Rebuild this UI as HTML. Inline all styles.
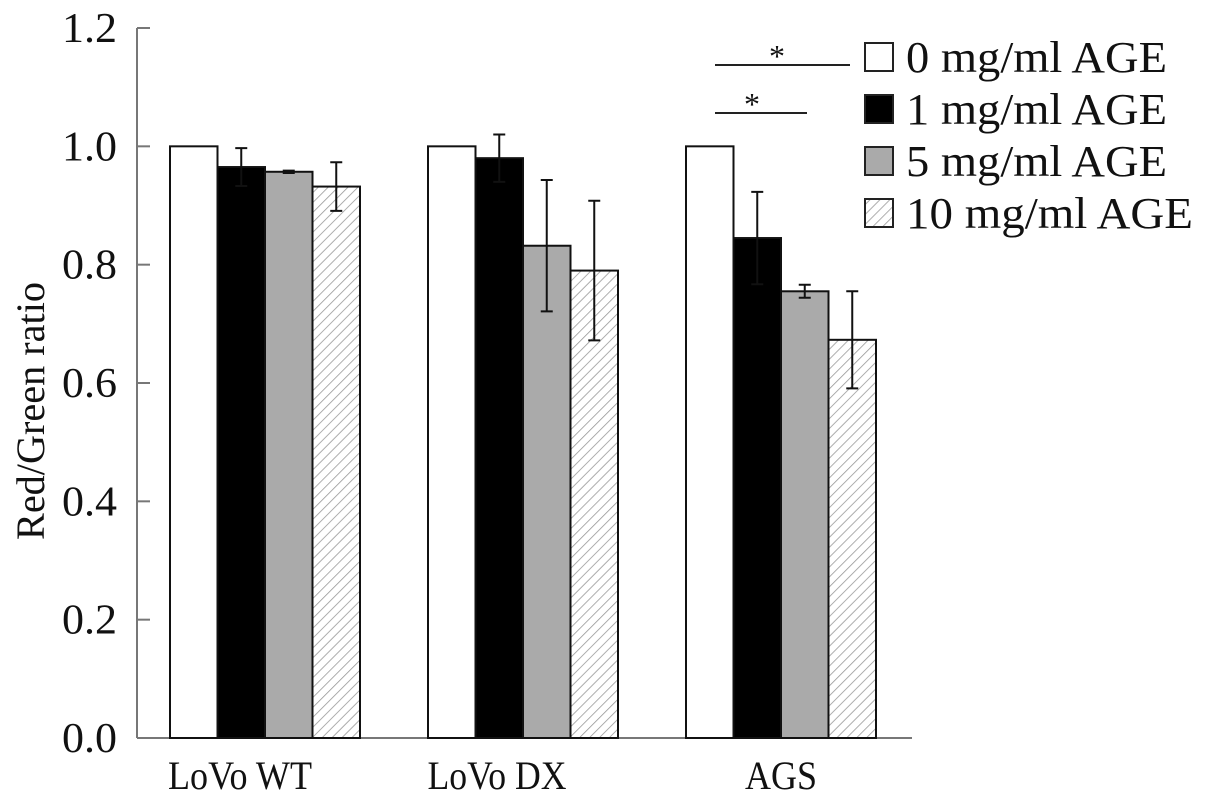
<!DOCTYPE html>
<html><head><meta charset="utf-8"><style>
body{margin:0;background:#fff}
svg text{font-family:"Liberation Serif",serif;fill:#111}
</style></head><body>
<svg width="1205" height="803">
<defs><pattern id="hatch" patternUnits="userSpaceOnUse" width="7" height="7" patternTransform="rotate(45)">
<rect width="7" height="7" fill="#fff"/><line x1="0" y1="0" x2="0" y2="7" stroke="#999" stroke-width="1.6"/></pattern></defs>
<g id="chart"></g>
</svg>
<script>
const categories=["LoVo WT","LoVo DX","AGS"];
const series=["0 mg/ml AGE","1 mg/ml AGE","5 mg/ml AGE","10 mg/ml AGE"];
const s0=[1.0,1.0,1.0];
const s1=[0.965,0.98,0.845];
const s2=[0.957,0.832,0.755];
const s3=[0.932,0.79,0.673];
const e0=[0,0,0];
const e1=[0.032,0.04,0.078];
const e2=[0.002,0.111,0.011];
const e3=[0.041,0.118,0.082];
const yTicks=[0,0.2,0.4,0.6,0.8,1.0,1.2];
const yTickLabels=["0.0","0.2","0.4","0.6","0.8","1.0","1.2"];
const vals=[s0,s1,s2,s3],errs=[e0,e1,e2,e3];
const fills=["#fff","#000","#aaa","url(#hatch)"];
const NS="http://www.w3.org/2000/svg";
const g=document.getElementById('chart');
const y0=738,yTop=28;
const y=v=>y0-(v/1.2)*(y0-yTop);
const groupX=[170,428,686],bw=47.5;
const labelX=[240,497,781];
const x=(gi,si)=>groupX[gi]+si*bw;
function el(t,a,txt){const e=document.createElementNS(NS,t);for(const k in a)e.setAttribute(k,a[k]);if(txt!=null)e.textContent=txt;g.appendChild(e);return e;}
let e=el('line',{x1:137,y1:y(0),x2:137,y2:y(1.2),stroke:'#777','stroke-width':2});

e=el('line',{x1:137,y1:y0,x2:912,y2:y0,stroke:'#777','stroke-width':2});

yTicks.forEach((t,i)=>{
 let l=el('line',{x1:137,y1:y(t),x2:150,y2:y(t),stroke:'#777','stroke-width':2});
 
 let tx=el('text',{x:117,y:y(t)+14,'text-anchor':'end','font-size':42,textLength:55,lengthAdjust:'spacingAndGlyphs'},yTickLabels[i]);
 
});
let yt=el('text',{x:0,y:0,'font-size':40,'text-anchor':'middle',textLength:258,lengthAdjust:'spacingAndGlyphs',transform:'translate(44,411) rotate(-90)'},'Red/Green  ratio');

const labelW=[144,139,72];
categories.forEach((c,gi)=>{
 vals.forEach((s,si)=>{
  const bx=x(gi,si),top=y(s[gi]);
  let r=el('rect',{x:bx,y:top,width:bw,height:y0-top,fill:fills[si],stroke:'#111','stroke-width':2});
  
  const er=errs[si][gi];
  if(er>0){const cx=bx+bw/2,t=y(s[gi]+er),b=y(s[gi]-er);
   let p=el('path',{d:`M${cx},${t}V${b}M${cx-6},${t}H${cx+6}M${cx-6},${b}H${cx+6}`,stroke:'#111','stroke-width':2,fill:'none'});
   }
 });
 let tx=el('text',{x:labelX[gi],y:789,'text-anchor':'middle','font-size':40,textLength:labelW[gi],lengthAdjust:'spacingAndGlyphs'},c);
 
});
const legW=[261,261,261,287];
series.forEach((s,i)=>{
 const cy=57+i*52;
 let r=el('rect',{x:865,y:cy-14,width:28,height:28,fill:fills[i],stroke:'#222','stroke-width':2});
 
 let t=el('text',{x:906,y:cy+15,'font-size':44,textLength:legW[i],lengthAdjust:'spacingAndGlyphs'},s);
 
});
[[715,850,65,777],[715,807,113,752]].forEach(a=>{
 let l=el('line',{x1:a[0],y1:a[2],x2:a[1],y2:a[2],stroke:'#222','stroke-width':2});
 
 let t=el('text',{x:a[3],y:a[2]+2,'font-size':32,'text-anchor':'middle'},'*');
 
});
</script>
</body></html>
